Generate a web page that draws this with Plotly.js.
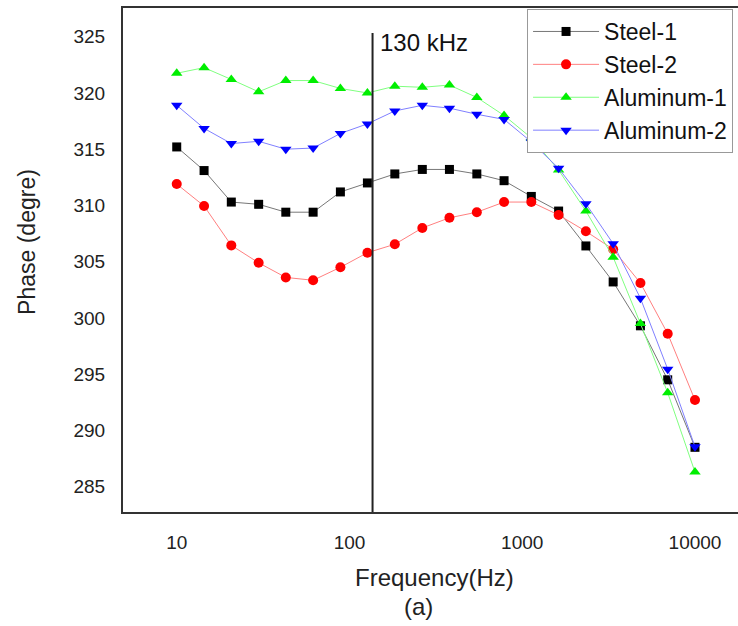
<!DOCTYPE html>
<html>
<head>
<meta charset="utf-8">
<script src="https://cdn.plot.ly/plotly-3.0.1.min.js"></script>
<style>html,body{margin:0;padding:0;background:#fff;}#chart{width:738px;height:626px;}</style>
</head>
<body>
<div id="chart"></div>
<script>
// Frequency points (Hz)
const freq = [10, 14.4, 20.7, 29.8, 42.8, 61.6, 88.6, 127, 183, 264, 379, 546, 785, 1129, 1624, 2336, 3360, 4833, 6952, 10000];
// Phase (degree) per series
const steel1 = [315.2, 313.1, 310.3, 310.1, 309.4, 309.4, 311.2, 312.0, 312.8, 313.2, 313.2, 312.8, 312.2, 310.8, 309.5, 306.4, 303.2, 299.3, 294.5, 288.5];
const steel2 = [311.9, 309.95, 306.45, 304.9, 303.6, 303.35, 304.5, 305.8, 306.55, 308.0, 308.9, 309.4, 310.3, 310.3, 309.15, 307.7, 306.1, 303.1, 298.6, 292.7];
const alu1 = [321.75, 322.25, 321.2, 320.1, 321.1, 321.1, 320.4, 320.0, 320.6, 320.5, 320.7, 319.6, 318.0, 316.0, 313.15, 309.5, 305.4, 299.5, 293.35, 286.3];
const alu2 = [318.9, 316.85, 315.5, 315.7, 315.0, 315.1, 316.4, 317.25, 318.4, 318.9, 318.65, 318.1, 317.65, 315.65, 313.3, 310.15, 306.6, 301.75, 295.45, 288.55];
const seriesNames = ['Steel-1', 'Steel-2', 'Aluminum-1', 'Aluminum-2'];
const xTickVals = [10, 100, 1000, 10000];
const xTickText = ['10', '100', '1000', '10000'];
const yTickVals = [285, 290, 295, 300, 305, 310, 315, 320, 325];
const markerFreq = 136;
const markerLabel = '130 kHz';

const FONT = 'Liberation Sans, Arial, sans-serif';

function tr(y, name, mcolor, lcolor, symbol, size) {
  return {
    x: freq, y: y, name: name, type: 'scatter', mode: 'lines+markers',
    line: {color: lcolor, width: 1},
    marker: {color: mcolor, symbol: symbol, size: size, line: {width: 0}}
  };
}

const data = [
  tr(steel1, seriesNames[0], '#000000', '#777777', 'square', 9),
  tr(steel2, seriesNames[1], '#ff0000', '#ff8080', 'circle', 10),
  tr(alu1, seriesNames[2], '#00ee00', '#80ff80', 'triangle-up', 10),
  tr(alu2, seriesNames[3], '#0000ff', '#8080ff', 'triangle-down', 10)
];

const layout = {
  width: 738, height: 626,
  margin: {l: 123, r: 0, t: 8, b: 114},
  paper_bgcolor: '#fff', plot_bgcolor: '#fff',
  font: {family: FONT, color: '#222', size: 19},
  showlegend: true,
  legend: {
    x: 0.657, xanchor: 'left', y: 0.998, yanchor: 'top',
    bgcolor: '#fff', bordercolor: '#999', borderwidth: 1,
    font: {family: FONT, size: 23, color: '#111'},
    itemwidth: 66
  },
  xaxis: {
    type: 'log', range: [0.689, 4.249],
    tickvals: xTickVals, ticktext: xTickText,
    ticks: 'outside', ticklen: 12, tickcolor: 'rgba(0,0,0,0)',
    showgrid: false, zeroline: false,
    showline: true, mirror: true, linecolor: '#333', linewidth: 2,
    tickfont: {family: FONT, size: 19, color: '#222'}
  },
  yaxis: {
    range: [282.75, 327.55],
    tickvals: yTickVals,
    ticks: 'outside', ticklen: 12, tickcolor: 'rgba(0,0,0,0)',
    showgrid: false, zeroline: false,
    showline: true, mirror: true, linecolor: '#333', linewidth: 2,
    tickfont: {family: FONT, size: 19, color: '#222'}
  },
  shapes: [{
    type: 'line', xref: 'x', yref: 'y',
    x0: markerFreq, x1: markerFreq, y0: 282.75, y1: 325.33,
    line: {color: '#222', width: 2}
  }],
  annotations: [
    {text: markerLabel, xref: 'paper', yref: 'paper', x: 0.415, y: 0.9325, xanchor: 'left', yanchor: 'middle', showarrow: false, font: {family: FONT, size: 24, color: '#111'}},
    {text: 'Frequency(Hz)', xref: 'paper', yref: 'paper', x: 0.507, y: -0.129, xanchor: 'center', yanchor: 'middle', showarrow: false, font: {family: FONT, size: 24, color: '#222'}},
    {text: '(a)', xref: 'paper', yref: 'paper', x: 0.48, y: -0.188, xanchor: 'center', yanchor: 'middle', showarrow: false, font: {family: FONT, size: 24, color: '#222'}},
    {text: 'Phase (degre)', xref: 'paper', yref: 'paper', x: -0.156, y: 0.536, xanchor: 'center', yanchor: 'middle', textangle: -90, showarrow: false, font: {family: FONT, size: 23, color: '#222'}}
  ]
};

Plotly.newPlot('chart', data, layout, {displayModeBar: false, staticPlot: true});
</script>
</body>
</html>
